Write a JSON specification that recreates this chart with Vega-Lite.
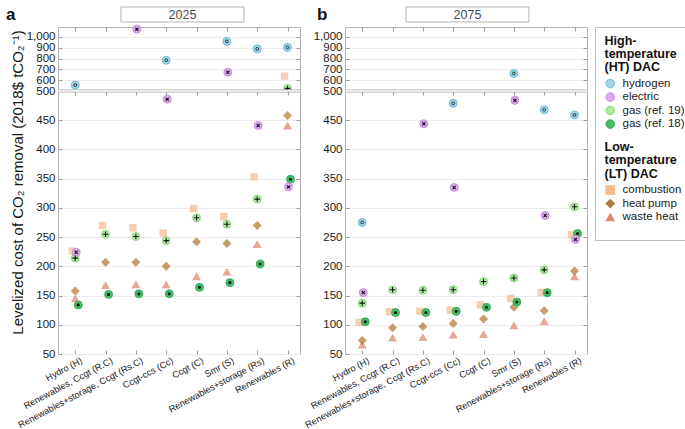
{
  "$schema": "https://vega.github.io/schema/vega-lite/v6.json",
  "padding": {"left": 5, "top": 6, "right": 0, "bottom": 0},
  "config": {
    "font": "Liberation Sans",
    "view": {"stroke": "#b4b4b4"},
    "axis": {"domain": false, "tickColor": "#9a9a9a", "labelColor": "#1a1a1a", "titleColor": "#1a1a1a", "labelOverlap": false, "labelFlush": false, "labelBound": false},
    "legend": {"orient": "none", "titleFontSize": 12.5, "titleFontWeight": "bold", "titleLineHeight": 13.4, "titleColor": "#111111", "labelFontSize": 11.5, "labelColor": "#222222", "rowPadding": 0.5, "symbolOffset": 0, "labelOffset": 6.5, "titlePadding": 4, "padding": 0}
  },
  "datasets": {
    "y2025": [
      {"cat": "Hydro (H)", "series": "combustion", "cost": 226},
      {"cat": "Hydro (H)", "series": "waste heat", "cost": 145},
      {"cat": "Hydro (H)", "series": "heat pump", "cost": 158},
      {"cat": "Hydro (H)", "series": "hydrogen", "cost": 555},
      {"cat": "Hydro (H)", "series": "gas (ref. 19)", "cost": 214},
      {"cat": "Hydro (H)", "series": "gas (ref. 18)", "cost": 134},
      {"cat": "Hydro (H)", "series": "electric", "cost": 224},
      {"cat": "Renewables, Ccgt (R.C)", "series": "combustion", "cost": 270},
      {"cat": "Renewables, Ccgt (R.C)", "series": "waste heat", "cost": 168},
      {"cat": "Renewables, Ccgt (R.C)", "series": "heat pump", "cost": 207},
      {"cat": "Renewables, Ccgt (R.C)", "series": "gas (ref. 19)", "cost": 255},
      {"cat": "Renewables, Ccgt (R.C)", "series": "gas (ref. 18)", "cost": 152},
      {"cat": "Renewables+storage, Ccgt (Rs.C)", "series": "combustion", "cost": 266},
      {"cat": "Renewables+storage, Ccgt (Rs.C)", "series": "waste heat", "cost": 169},
      {"cat": "Renewables+storage, Ccgt (Rs.C)", "series": "heat pump", "cost": 207},
      {"cat": "Renewables+storage, Ccgt (Rs.C)", "series": "gas (ref. 19)", "cost": 251},
      {"cat": "Renewables+storage, Ccgt (Rs.C)", "series": "gas (ref. 18)", "cost": 153},
      {"cat": "Renewables+storage, Ccgt (Rs.C)", "series": "electric", "cost": 1072},
      {"cat": "Ccgt-ccs (Cc)", "series": "combustion", "cost": 257},
      {"cat": "Ccgt-ccs (Cc)", "series": "waste heat", "cost": 169},
      {"cat": "Ccgt-ccs (Cc)", "series": "heat pump", "cost": 200},
      {"cat": "Ccgt-ccs (Cc)", "series": "hydrogen", "cost": 784},
      {"cat": "Ccgt-ccs (Cc)", "series": "gas (ref. 19)", "cost": 244},
      {"cat": "Ccgt-ccs (Cc)", "series": "gas (ref. 18)", "cost": 153},
      {"cat": "Ccgt-ccs (Cc)", "series": "electric", "cost": 486},
      {"cat": "Ccgt (C)", "series": "combustion", "cost": 299},
      {"cat": "Ccgt (C)", "series": "waste heat", "cost": 183},
      {"cat": "Ccgt (C)", "series": "heat pump", "cost": 242},
      {"cat": "Ccgt (C)", "series": "gas (ref. 19)", "cost": 283},
      {"cat": "Ccgt (C)", "series": "gas (ref. 18)", "cost": 164},
      {"cat": "Smr (S)", "series": "combustion", "cost": 285},
      {"cat": "Smr (S)", "series": "waste heat", "cost": 191},
      {"cat": "Smr (S)", "series": "heat pump", "cost": 239},
      {"cat": "Smr (S)", "series": "hydrogen", "cost": 959},
      {"cat": "Smr (S)", "series": "gas (ref. 19)", "cost": 272},
      {"cat": "Smr (S)", "series": "gas (ref. 18)", "cost": 172},
      {"cat": "Smr (S)", "series": "electric", "cost": 674},
      {"cat": "Renewables+storage (Rs)", "series": "combustion", "cost": 353},
      {"cat": "Renewables+storage (Rs)", "series": "waste heat", "cost": 238},
      {"cat": "Renewables+storage (Rs)", "series": "heat pump", "cost": 270},
      {"cat": "Renewables+storage (Rs)", "series": "hydrogen", "cost": 890},
      {"cat": "Renewables+storage (Rs)", "series": "gas (ref. 19)", "cost": 315},
      {"cat": "Renewables+storage (Rs)", "series": "gas (ref. 18)", "cost": 204},
      {"cat": "Renewables+storage (Rs)", "series": "electric", "cost": 441},
      {"cat": "Renewables (R)", "series": "combustion", "cost": 637},
      {"cat": "Renewables (R)", "series": "waste heat", "cost": 441},
      {"cat": "Renewables (R)", "series": "heat pump", "cost": 458},
      {"cat": "Renewables (R)", "series": "hydrogen", "cost": 903},
      {"cat": "Renewables (R)", "series": "gas (ref. 19)", "cost": 524},
      {"cat": "Renewables (R)", "series": "gas (ref. 18)", "cost": 349},
      {"cat": "Renewables (R)", "series": "electric", "cost": 336}
    ],
    "y2075": [
      {"cat": "Hydro (H)", "series": "combustion", "cost": 104},
      {"cat": "Hydro (H)", "series": "waste heat", "cost": 66},
      {"cat": "Hydro (H)", "series": "heat pump", "cost": 73},
      {"cat": "Hydro (H)", "series": "hydrogen", "cost": 275},
      {"cat": "Hydro (H)", "series": "gas (ref. 19)", "cost": 137},
      {"cat": "Hydro (H)", "series": "gas (ref. 18)", "cost": 105},
      {"cat": "Hydro (H)", "series": "electric", "cost": 155},
      {"cat": "Renewables, Ccgt (R.C)", "series": "combustion", "cost": 122},
      {"cat": "Renewables, Ccgt (R.C)", "series": "waste heat", "cost": 78},
      {"cat": "Renewables, Ccgt (R.C)", "series": "heat pump", "cost": 95},
      {"cat": "Renewables, Ccgt (R.C)", "series": "gas (ref. 19)", "cost": 160},
      {"cat": "Renewables, Ccgt (R.C)", "series": "gas (ref. 18)", "cost": 121},
      {"cat": "Renewables+storage, Ccgt (Rs.C)", "series": "combustion", "cost": 123},
      {"cat": "Renewables+storage, Ccgt (Rs.C)", "series": "waste heat", "cost": 79},
      {"cat": "Renewables+storage, Ccgt (Rs.C)", "series": "heat pump", "cost": 97},
      {"cat": "Renewables+storage, Ccgt (Rs.C)", "series": "gas (ref. 19)", "cost": 159},
      {"cat": "Renewables+storage, Ccgt (Rs.C)", "series": "gas (ref. 18)", "cost": 121},
      {"cat": "Renewables+storage, Ccgt (Rs.C)", "series": "electric", "cost": 444},
      {"cat": "Ccgt-ccs (Cc)", "series": "combustion", "cost": 125},
      {"cat": "Ccgt-ccs (Cc)", "series": "waste heat", "cost": 83},
      {"cat": "Ccgt-ccs (Cc)", "series": "heat pump", "cost": 102},
      {"cat": "Ccgt-ccs (Cc)", "series": "hydrogen", "cost": 479},
      {"cat": "Ccgt-ccs (Cc)", "series": "gas (ref. 19)", "cost": 160},
      {"cat": "Ccgt-ccs (Cc)", "series": "gas (ref. 18)", "cost": 123},
      {"cat": "Ccgt-ccs (Cc)", "series": "electric", "cost": 335},
      {"cat": "Ccgt (C)", "series": "combustion", "cost": 134},
      {"cat": "Ccgt (C)", "series": "waste heat", "cost": 84},
      {"cat": "Ccgt (C)", "series": "heat pump", "cost": 110},
      {"cat": "Ccgt (C)", "series": "gas (ref. 19)", "cost": 174},
      {"cat": "Ccgt (C)", "series": "gas (ref. 18)", "cost": 130},
      {"cat": "Smr (S)", "series": "combustion", "cost": 145},
      {"cat": "Smr (S)", "series": "waste heat", "cost": 99},
      {"cat": "Smr (S)", "series": "heat pump", "cost": 130},
      {"cat": "Smr (S)", "series": "hydrogen", "cost": 662},
      {"cat": "Smr (S)", "series": "gas (ref. 19)", "cost": 180},
      {"cat": "Smr (S)", "series": "gas (ref. 18)", "cost": 139},
      {"cat": "Smr (S)", "series": "electric", "cost": 484},
      {"cat": "Renewables+storage (Rs)", "series": "combustion", "cost": 155},
      {"cat": "Renewables+storage (Rs)", "series": "waste heat", "cost": 106},
      {"cat": "Renewables+storage (Rs)", "series": "heat pump", "cost": 124},
      {"cat": "Renewables+storage (Rs)", "series": "hydrogen", "cost": 468},
      {"cat": "Renewables+storage (Rs)", "series": "gas (ref. 19)", "cost": 194},
      {"cat": "Renewables+storage (Rs)", "series": "gas (ref. 18)", "cost": 155},
      {"cat": "Renewables+storage (Rs)", "series": "electric", "cost": 287},
      {"cat": "Renewables (R)", "series": "combustion", "cost": 254},
      {"cat": "Renewables (R)", "series": "waste heat", "cost": 183},
      {"cat": "Renewables (R)", "series": "heat pump", "cost": 192},
      {"cat": "Renewables (R)", "series": "hydrogen", "cost": 459},
      {"cat": "Renewables (R)", "series": "gas (ref. 19)", "cost": 302},
      {"cat": "Renewables (R)", "series": "gas (ref. 18)", "cost": 256},
      {"cat": "Renewables (R)", "series": "electric", "cost": 246}
    ]
  },
  "bounds": "flush",
  "columns": 3,
  "spacing": {"row": 5, "column": 8},
  "concat": [
    {
      "width": 279, "height": 15,
      "view": {"stroke": null},
      "data": {"values": [{"year": "2025", "panel": "a"}]},
      "layer": [
        {"mark": {"type": "rect", "fill": "white", "stroke": "#b4b4b4", "strokeWidth": 1},
         "encoding": {"x": {"datum": 0.2258, "type": "quantitative", "scale": {"domain": [0, 1]}, "axis": null}, "x2": {"datum": 0.6667}, "y": {"datum": 0, "type": "quantitative", "scale": {"domain": [0, 1]}, "axis": null}, "y2": {"datum": 1}}},
        {"mark": {"type": "text", "fontSize": 12.5, "color": "#4a4a4a"},
         "encoding": {"x": {"datum": 0.4462, "type": "quantitative"}, "y": {"datum": 0.5, "type": "quantitative"}, "text": {"field": "year"}}},
        {"mark": {"type": "text", "fontSize": 17, "fontWeight": "bold", "align": "left", "color": "#111111"},
         "encoding": {"x": {"datum": -0.1864, "type": "quantitative"}, "y": {"datum": 0.45, "type": "quantitative"}, "text": {"field": "panel"}}}
      ]
    },
    {
      "width": 242, "height": 15,
      "view": {"stroke": null},
      "data": {"values": [{"year": "2075", "panel": "b"}]},
      "layer": [
        {"mark": {"type": "rect", "fill": "white", "stroke": "#b4b4b4", "strokeWidth": 1},
         "encoding": {"x": {"datum": 0.252, "type": "quantitative", "scale": {"domain": [0, 1]}, "axis": null}, "x2": {"datum": 0.76}, "y": {"datum": 0, "type": "quantitative", "scale": {"domain": [0, 1]}, "axis": null}, "y2": {"datum": 1}}},
        {"mark": {"type": "text", "fontSize": 12.5, "color": "#4a4a4a"},
         "encoding": {"x": {"datum": 0.506, "type": "quantitative"}, "y": {"datum": 0.5, "type": "quantitative"}, "text": {"field": "year"}}},
        {"mark": {"type": "text", "fontSize": 17, "fontWeight": "bold", "align": "left", "color": "#111111"},
         "encoding": {"x": {"datum": -0.1157, "type": "quantitative"}, "y": {"datum": 0.45, "type": "quantitative"}, "text": {"field": "panel"}}}
      ]
    },
    {
      "width": 92, "height": 15,
      "view": {"stroke": null},
      "data": {"values": [{}]},
      "mark": {"type": "text"},
      "encoding": {"text": {"value": ""}}
    },
    {
      "width": 242, "height": 327,
      "data": {"name": "y2025"},
      "resolve": {"axis": {"x": "independent", "y": "independent"}},
      "layer": [
        {
          "transform": [{"filter": {"field": "series", "oneOf": ["combustion", "heat pump", "waste heat"]}}],
          "mark": {"type": "point", "filled": true, "opacity": 0.65, "strokeWidth": 0, "xOffset": {"expr": "datum.series === 'combustion' ? -3 : 0"}},
          "encoding": {
            "x": {"field": "cat", "type": "nominal", "scale": {"type": "point", "domain": ["Hydro (H)", "Renewables, Ccgt (R.C)", "Renewables+storage, Ccgt (Rs.C)", "Ccgt-ccs (Cc)", "Ccgt (C)", "Smr (S)", "Renewables+storage (Rs)", "Renewables (R)"], "padding": 0.49, "align": 0.58},
                  "axis": {"orient": "bottom", "title": null, "labelAngle": -28, "labelFontSize": 9.2, "labelOffset": 4, "tickSize": -4, "labelPadding": 6, "grid": false}},
            "y": {"field": "cost", "type": "quantitative", "scale": {"type": "linear", "domain": [50, 500, 1092], "range": [327, 64, 0], "nice": false, "zero": false},
                  "axis": {"orient": "left", "values": [50, 100, 150, 200, 250, 300, 350, 400, 450, 500, 600, 700, 800, 900, 1000], "format": ",.0f", "title": "Levelized cost of CO₂ removal  (2018$ tCO₂⁻¹)", "titleFontSize": 15, "titleFontWeight": "normal", "titlePadding": 1, "titleY": 155, "labelFontSize": 11.5, "tickSize": -4, "labelPadding": 7, "grid": true, "gridColor": "#ececec"}},
            "fill": {"field": "series", "type": "nominal", "scale": {"domain": ["combustion", "heat pump", "waste heat"], "range": ["#f5b48a", "#a86a20", "#d9785e"]},
                     "legend": {"title": ["Low-", "temperature", "(LT) DAC"], "legendX": 546.5, "legendY": 134, "symbolSize": 95, "symbolStrokeWidth": 0, "symbolOpacity": 0.9}},
            "shape": {"field": "series", "type": "nominal", "scale": {"domain": ["combustion", "heat pump", "waste heat"], "range": ["square", "diamond", "triangle-up"]},
                      "legend": {"title": ["Low-", "temperature", "(LT) DAC"], "legendX": 546.5, "legendY": 134, "symbolSize": 95, "symbolStrokeWidth": 0, "symbolOpacity": 0.9}},
            "size": {"condition": {"test": "datum.series === 'combustion'", "value": 56}, "value": 81}
          }
        },
        {
          "transform": [{"filter": {"field": "series", "oneOf": ["hydrogen", "electric", "gas (ref. 19)", "gas (ref. 18)"]}}],
          "mark": {"type": "point", "filled": true, "shape": "circle", "size": 64, "strokeWidth": 0.8, "opacity": 1, "xOffset": {"expr": "datum.series === 'gas (ref. 18)' ? 3 : datum.series === 'electric' ? 1 : 0"}},
          "encoding": {
            "x": {"field": "cat", "type": "nominal", "axis": {"orient": "top", "title": null, "labels": false, "tickSize": -4, "grid": false}},
            "y": {"field": "cost", "type": "quantitative", "axis": {"orient": "right", "values": [100, 150, 200, 250, 300, 350, 400, 450, 600, 700, 800, 900, 1000], "labels": false, "title": null, "tickSize": -4, "grid": false}},
            "color": {"field": "series", "type": "nominal", "scale": {"domain": ["hydrogen", "electric", "gas (ref. 19)", "gas (ref. 18)"], "range": ["#9fd3e6", "#dcaaee", "#b3e9a6", "#40bf65"]},
                      "legend": {"title": ["High-", "temperature", "(HT) DAC"], "legendX": 546.5, "legendY": 27.5, "symbolSize": 75, "symbolStrokeWidth": 0.8, "symbolOpacity": 1}},
            "stroke": {"field": "series", "type": "nominal", "scale": {"domain": ["hydrogen", "electric", "gas (ref. 19)", "gas (ref. 18)"], "range": ["#62b3d3", "#c07fdc", "#7fd070", "#2f9e50"]},
                       "legend": {"title": ["High-", "temperature", "(HT) DAC"], "legendX": 546.5, "legendY": 27.5, "symbolSize": 75, "symbolStrokeWidth": 0.8, "symbolOpacity": 1}}
          }
        },
        {
          "transform": [{"filter": {"field": "series", "oneOf": ["hydrogen", "electric", "gas (ref. 19)", "gas (ref. 18)"]}}],
          "mark": {"type": "point", "filled": false, "color": "#111111", "opacity": 1, "xOffset": {"expr": "datum.series === 'gas (ref. 18)' ? 3 : datum.series === 'electric' ? 1 : 0"}},
          "encoding": {
            "x": {"field": "cat", "type": "nominal", "axis": {"orient": "top", "title": null, "labels": false, "tickSize": -4, "grid": false, "offset": -64}},
            "y": {"field": "cost", "type": "quantitative", "axis": null},
            "shape": {"condition": [{"test": "datum.series === 'electric'", "value": "M-1,-1L1,1M-1,1L1,-1"}, {"test": "datum.series === 'gas (ref. 19)'", "value": "M-1,0L1,0M0,-1L0,1"}], "value": "circle"},
            "size": {"condition": [{"test": "datum.series === 'electric'", "value": 10}, {"test": "datum.series === 'gas (ref. 19)'", "value": 30}, {"test": "datum.series === 'gas (ref. 18)'", "value": 2}], "value": 8},
            "strokeWidth": {"condition": [{"test": "datum.series === 'gas (ref. 18)'", "value": 1.8}, {"test": "datum.series === 'hydrogen'", "value": 0.8}], "value": 1.1}
          }
        },
        {
          "transform": [{"aggregate": [{"op": "count", "as": "n"}]}],
          "mark": {"type": "rule", "color": "#a8a8a8", "strokeWidth": 3},
          "encoding": {"y": {"datum": 500, "type": "quantitative", "axis": null}}
        },
        {
          "transform": [{"aggregate": [{"op": "count", "as": "n"}]}],
          "mark": {"type": "rule", "color": "white", "strokeWidth": 1.3},
          "encoding": {"y": {"datum": 500, "type": "quantitative", "axis": null}}
        }
      ]
    },
    {
      "width": 242, "height": 327,
      "data": {"name": "y2075"},
      "resolve": {"axis": {"x": "independent", "y": "independent"}},
      "layer": [
        {
          "transform": [{"filter": {"field": "series", "oneOf": ["combustion", "heat pump", "waste heat"]}}],
          "mark": {"type": "point", "filled": true, "opacity": 0.65, "strokeWidth": 0, "xOffset": {"expr": "datum.series === 'combustion' ? -3 : 0"}},
          "encoding": {
            "x": {"field": "cat", "type": "nominal", "scale": {"type": "point", "domain": ["Hydro (H)", "Renewables, Ccgt (R.C)", "Renewables+storage, Ccgt (Rs.C)", "Ccgt-ccs (Cc)", "Ccgt (C)", "Smr (S)", "Renewables+storage (Rs)", "Renewables (R)"], "padding": 0.49, "align": 0.58},
                  "axis": {"orient": "bottom", "title": null, "labelAngle": -28, "labelFontSize": 9.2, "labelOffset": 4, "tickSize": -4, "labelPadding": 6, "grid": false}},
            "y": {"field": "cost", "type": "quantitative", "scale": {"type": "linear", "domain": [50, 500, 1092], "range": [327, 64, 0], "nice": false, "zero": false},
                  "axis": {"orient": "left", "values": [50, 100, 150, 200, 250, 300, 350, 400, 450, 500, 600, 700, 800, 900, 1000], "format": ",.0f", "title": null, "labelFontSize": 11.5, "tickSize": -4, "labelPadding": 7, "grid": true, "gridColor": "#ececec"}},
            "fill": {"field": "series", "type": "nominal", "scale": {"domain": ["combustion", "heat pump", "waste heat"], "range": ["#f5b48a", "#a86a20", "#d9785e"]},
                     "legend": {"title": ["Low-", "temperature", "(LT) DAC"], "legendX": 546.5, "legendY": 134, "symbolSize": 95, "symbolStrokeWidth": 0, "symbolOpacity": 0.9}},
            "shape": {"field": "series", "type": "nominal", "scale": {"domain": ["combustion", "heat pump", "waste heat"], "range": ["square", "diamond", "triangle-up"]},
                      "legend": {"title": ["Low-", "temperature", "(LT) DAC"], "legendX": 546.5, "legendY": 134, "symbolSize": 95, "symbolStrokeWidth": 0, "symbolOpacity": 0.9}},
            "size": {"condition": {"test": "datum.series === 'combustion'", "value": 56}, "value": 81}
          }
        },
        {
          "transform": [{"filter": {"field": "series", "oneOf": ["hydrogen", "electric", "gas (ref. 19)", "gas (ref. 18)"]}}],
          "mark": {"type": "point", "filled": true, "shape": "circle", "size": 64, "strokeWidth": 0.8, "opacity": 1, "xOffset": {"expr": "datum.series === 'gas (ref. 18)' ? 3 : datum.series === 'electric' ? 1 : 0"}},
          "encoding": {
            "x": {"field": "cat", "type": "nominal", "axis": {"orient": "top", "title": null, "labels": false, "tickSize": -4, "grid": false}},
            "y": {"field": "cost", "type": "quantitative", "axis": {"orient": "right", "values": [100, 150, 200, 250, 300, 350, 400, 450, 600, 700, 800, 900, 1000], "labels": false, "title": null, "tickSize": -4, "grid": false}},
            "color": {"field": "series", "type": "nominal", "scale": {"domain": ["hydrogen", "electric", "gas (ref. 19)", "gas (ref. 18)"], "range": ["#9fd3e6", "#dcaaee", "#b3e9a6", "#40bf65"]},
                      "legend": {"title": ["High-", "temperature", "(HT) DAC"], "legendX": 546.5, "legendY": 27.5, "symbolSize": 75, "symbolStrokeWidth": 0.8, "symbolOpacity": 1}},
            "stroke": {"field": "series", "type": "nominal", "scale": {"domain": ["hydrogen", "electric", "gas (ref. 19)", "gas (ref. 18)"], "range": ["#62b3d3", "#c07fdc", "#7fd070", "#2f9e50"]},
                       "legend": {"title": ["High-", "temperature", "(HT) DAC"], "legendX": 546.5, "legendY": 27.5, "symbolSize": 75, "symbolStrokeWidth": 0.8, "symbolOpacity": 1}}
          }
        },
        {
          "transform": [{"filter": {"field": "series", "oneOf": ["hydrogen", "electric", "gas (ref. 19)", "gas (ref. 18)"]}}],
          "mark": {"type": "point", "filled": false, "color": "#111111", "opacity": 1, "xOffset": {"expr": "datum.series === 'gas (ref. 18)' ? 3 : datum.series === 'electric' ? 1 : 0"}},
          "encoding": {
            "x": {"field": "cat", "type": "nominal", "axis": {"orient": "top", "title": null, "labels": false, "tickSize": -4, "grid": false, "offset": -64}},
            "y": {"field": "cost", "type": "quantitative", "axis": null},
            "shape": {"condition": [{"test": "datum.series === 'electric'", "value": "M-1,-1L1,1M-1,1L1,-1"}, {"test": "datum.series === 'gas (ref. 19)'", "value": "M-1,0L1,0M0,-1L0,1"}], "value": "circle"},
            "size": {"condition": [{"test": "datum.series === 'electric'", "value": 10}, {"test": "datum.series === 'gas (ref. 19)'", "value": 30}, {"test": "datum.series === 'gas (ref. 18)'", "value": 2}], "value": 8},
            "strokeWidth": {"condition": [{"test": "datum.series === 'gas (ref. 18)'", "value": 1.8}, {"test": "datum.series === 'hydrogen'", "value": 0.8}], "value": 1.1}
          }
        },
        {
          "transform": [{"aggregate": [{"op": "count", "as": "n"}]}],
          "mark": {"type": "rule", "color": "#a8a8a8", "strokeWidth": 3},
          "encoding": {"y": {"datum": 500, "type": "quantitative", "axis": null}}
        },
        {
          "transform": [{"aggregate": [{"op": "count", "as": "n"}]}],
          "mark": {"type": "rule", "color": "white", "strokeWidth": 1.3},
          "encoding": {"y": {"datum": 500, "type": "quantitative", "axis": null}}
        }
      ]
    },
    {
      "width": 92, "height": 213,
      "view": {"stroke": "#bdbdbd"},
      "data": {"values": [{}]},
      "mark": {"type": "text"},
      "encoding": {"text": {"value": ""}}
    }
  ]
}
